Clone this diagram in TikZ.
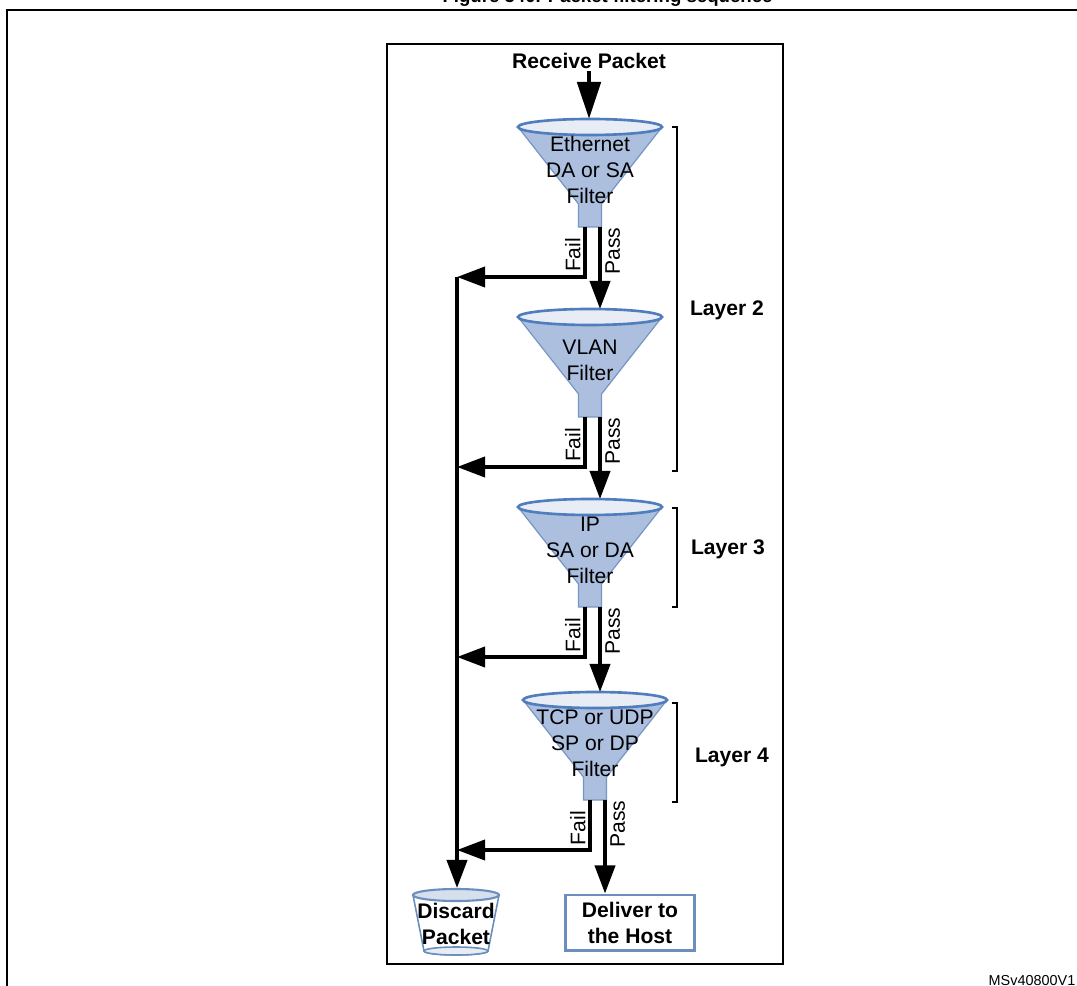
\documentclass[tikz,border=0pt]{standalone}
\usepackage{fontspec}
\setmainfont{Liberation Sans}
\usetikzlibrary{arrows.meta, calc}

\definecolor{conefill}{RGB}{172,191,222}
\definecolor{coneline}{RGB}{120,150,196}
\definecolor{rimfill}{RGB}{232,237,245}
\definecolor{rimline}{RGB}{79,125,189}
\definecolor{boxline}{RGB}{108,142,191}
\definecolor{cuptop}{RGB}{214,223,236}

\begin{document}
\begin{tikzpicture}[x=0.01cm, y=-0.01cm,
  txt/.style={font=\fontsize{6}{7.4}\selectfont, align=center, inner sep=0.5pt},
  btxt/.style={txt, font=\fontsize{6}{7.4}\selectfont\bfseries},
  flow/.style={line width=1.1pt, -{Triangle[length=0.28cm, width=0.2cm]}},
  bigflow/.style={line width=1.4pt, -{Triangle[length=0.37cm, width=0.23cm]}},
  cone/.style={fill=conefill, draw=coneline, line width=0.35pt},
  rim/.style={fill=rimfill, draw=rimline, line width=0.75pt},
  brk/.style={black, line width=0.4pt},
  hostbox/.style={btxt, draw=boxline, line width=0.85pt, minimum width=1.29cm, minimum height=0.55cm}]
\useasboundingbox (0,0) rectangle (1077,986);
\draw[line width=0.75pt] (1077,10) -- (7,10) -- (7,986);
\draw[line width=0.6pt] (387,44) rectangle (783,964);
\node[font=\fontsize{5.3}{6}\selectfont\bfseries, anchor=base east] (title) at (785,3) {Figure 540. Packet filtering sequence};
\node[font=\fontsize{4.1}{5}\selectfont, anchor=base west, inner sep=0pt] (ref) at (988,985) {MSv40800V1};

\foreach \n/\cx/\ty/\t in {f1/590/127/{Ethernet\\DA or SA\\Filter}, f2/590/317/{VLAN\\Filter}, f3/590/507/{IP\\SA or DA\\Filter}, f4/595/700/{TCP or UDP\\SP or DP\\Filter}} {
  \filldraw[cone] (\cx-72,\ty) -- (\cx-11.5,\ty+77) -- (\cx-11.5,\ty+100) -- (\cx+11.5,\ty+100) -- (\cx+11.5,\ty+77) -- (\cx+72,\ty) -- cycle;
  \filldraw[rim] (\cx,\ty) ellipse (72 and 8);
  \node[txt] (\n) at (\cx,\ty+43) {\t};
  \coordinate (\n-top) at (\cx,\ty-8);
  \coordinate (\n-fail) at (\cx-5,\ty+100);
  \coordinate (\n-pass) at (\cx+10,\ty+100);
  \coordinate (\n-drop) at (457,\ty+150);
  \node[txt, rotate=90, anchor=south] at (\cx-7,\ty+128) {Fail};
  \node[txt, rotate=90, anchor=north] at (\cx+13,\ty+124) {Pass};
}

\node[btxt] (recv) at (589,61) {Receive Packet};
\draw[bigflow] (recv.south) -- (recv.south |- f1-top);

\filldraw[fill=white, draw=boxline, line width=0.45pt] (413,895) -- (424,951) arc[start angle=180, end angle=0, x radius=32, y radius=4] -- (499,895) -- cycle;
\filldraw[fill=rimfill, draw=boxline, line width=0.45pt] (456,951) ellipse (32 and 4);
\filldraw[fill=cuptop, draw=boxline, line width=0.6pt] (456,895) ellipse (43 and 6);
\node[btxt] (discard) at (456,924) {Discard\\Packet};
\coordinate (discard-top) at (457,888);

\node[hostbox] (host) at (630,922.5) {Deliver to\\the Host};

\draw[flow] (f1-pass) -- (f1-pass |- f2-top);
\draw[flow] (f2-pass) -- (f2-pass |- f3-top);
\draw[flow] (f3-pass) -- (f3-pass |- f4-top);
\draw[flow] (f4-pass) -- (f4-pass |- host.north);
\foreach \n in {f1,f2,f3,f4} \draw[flow] (\n-fail) |- (\n-drop);
\draw[flow] (f1-drop) -- (discard-top);

\draw[brk] (672,127) -- (677,127) -- (677,471) -- (672,471);
\node[btxt] (l2) at (727,310) {Layer 2};
\draw[brk] (672,508) -- (677,508) -- (677,607) -- (672,607);
\node[btxt] (l3) at (728,549) {Layer 3};
\draw[brk] (672,703) -- (677,703) -- (677,802) -- (672,802);
\node[btxt] (l4) at (732,757) {Layer 4};
\end{tikzpicture}
\end{document}
